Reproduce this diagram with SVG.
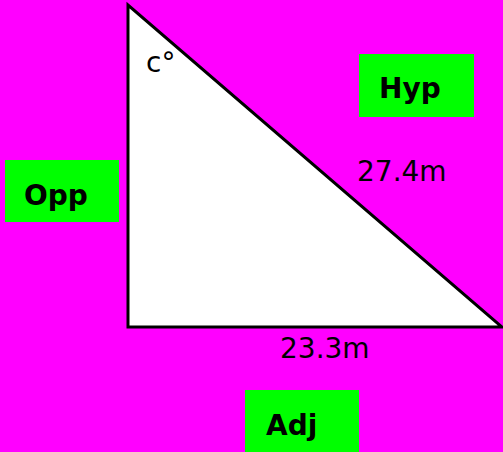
<svg xmlns="http://www.w3.org/2000/svg" width="503" height="452" viewBox="0 0 503 452">
<style>
.lbl{font-family:"Comic Sans MS","DejaVu Sans",sans-serif;font-size:28px;fill:#000}
.b{font-weight:bold}
.box{fill:#00FF00}
</style>
<rect width="503" height="452" fill="#FF00FF"/>
<g id="triangle">
<polygon points="128,5 128,327 502,327" fill="#FFFFFF" stroke="#000" stroke-width="3" stroke-linejoin="miter"/>
<text class="lbl" x="146" y="72" font-size="26">c°</text>
<text class="lbl" x="357" y="181">27.4m</text>
<text class="lbl" x="280" y="358">23.3m</text>
</g>
<g id="hyp">
<rect class="box" x="359" y="54" width="115" height="63"/>
<text class="lbl b" x="379" y="98">Hyp</text>
</g>
<g id="opp">
<rect class="box" x="5" y="160" width="114" height="62"/>
<text class="lbl b" x="24" y="205">Opp</text>
</g>
<g id="adj">
<rect class="box" x="245" y="390" width="114" height="62"/>
<text class="lbl b" x="266" y="435">Adj</text>
</g>
</svg>
